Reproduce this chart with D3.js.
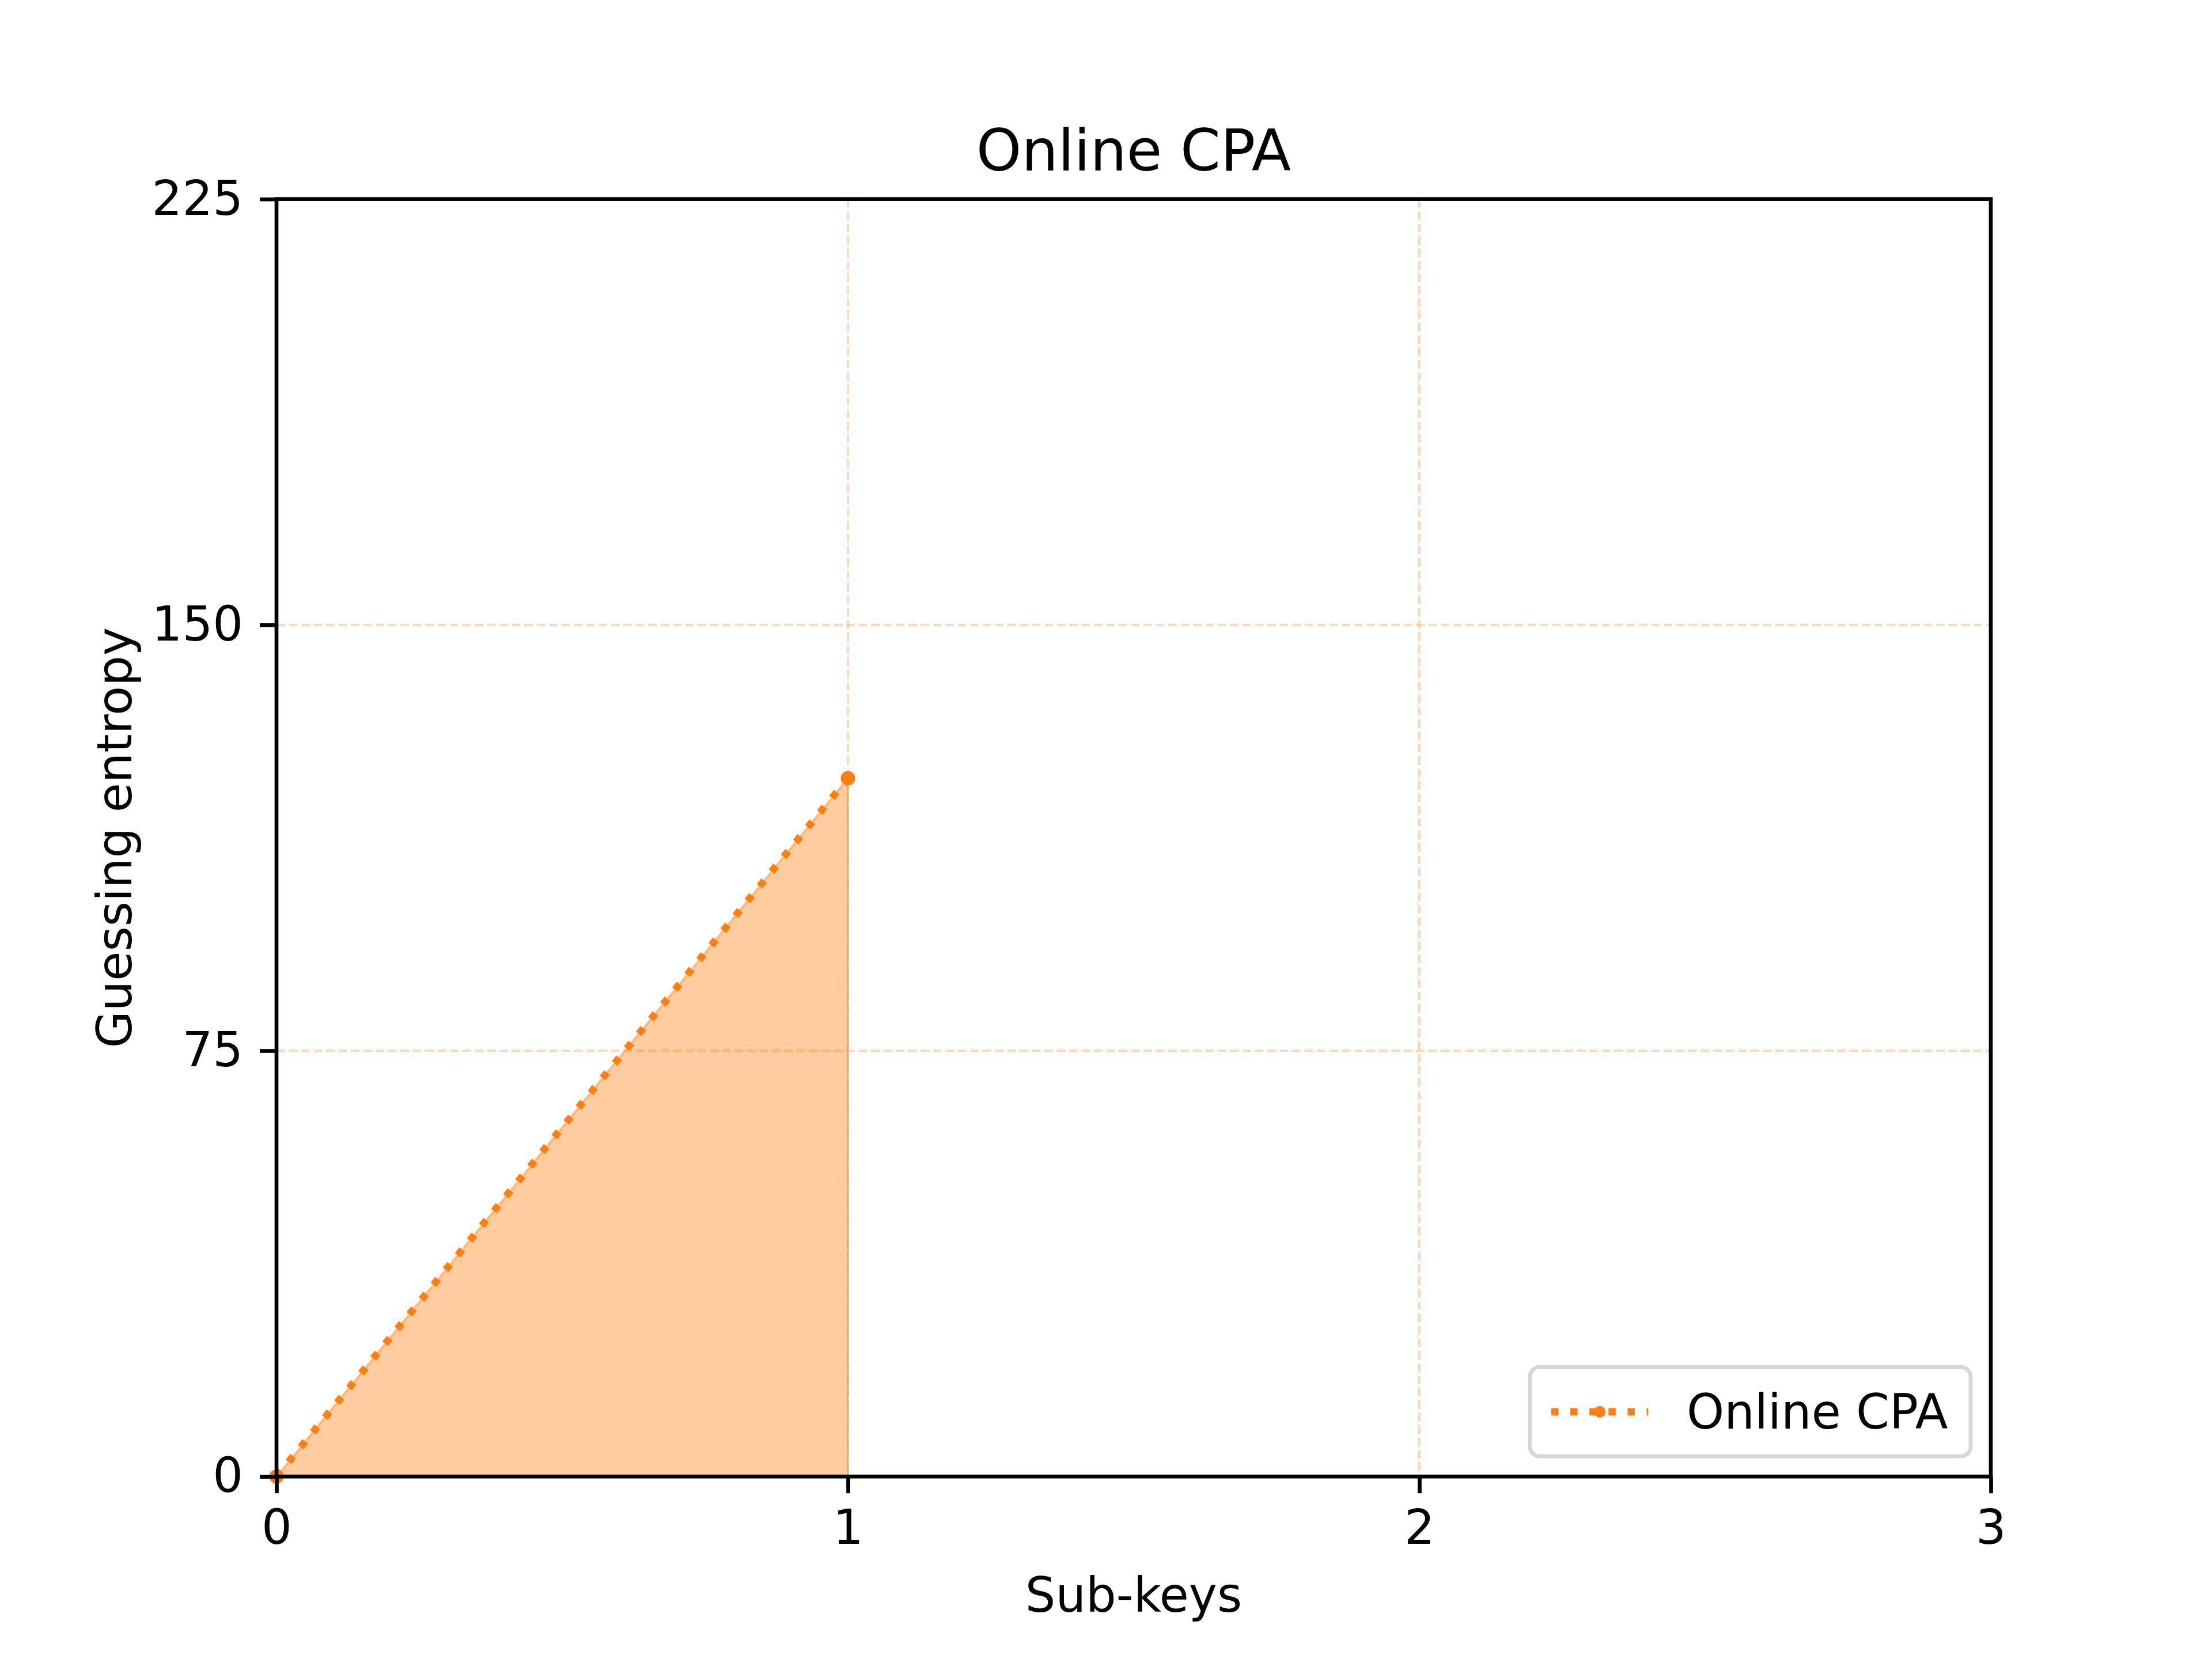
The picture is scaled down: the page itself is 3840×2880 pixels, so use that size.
<!DOCTYPE html>
<meta charset="utf-8">
<script src="https://d3js.org/d3.v7.js"></script>
<style>body{margin:0;background:#fff}</style>
<div id="my_dataviz"></div>
<script>
// data
var subKeys = [0, 1];
var entropy = [0, 123];
var xTicks = [0, 1, 2, 3];
var yTicks = [0, 75, 150, 225];
var seriesName = "Online CPA";

var W = 3840, H = 2880;
var margin = {top: 345.6, right: 384, bottom: 316.8, left: 480},
    width = W - margin.left - margin.right,
    height = H - margin.top - margin.bottom;
var orange = "#ff7f0e";
var font = "DejaVu Sans";

var svg = d3.select("#my_dataviz").append("svg")
    .attr("width", W).attr("height", H)
    .style("font-family", font);
var g = svg.append("g")
    .attr("transform", "translate(" + margin.left + "," + margin.top + ")");

var x = d3.scaleLinear().domain([0, 3]).range([0, width]);
var y = d3.scaleLinear().domain([0, 225]).range([height, 0]);

var data = subKeys.map(function(k, i) { return {x: k, y: entropy[i]}; });

// grid
g.append("g").selectAll("line").data(xTicks).enter().append("line")
  .attr("x1", d => x(d)).attr("x2", d => x(d)).attr("y1", 0).attr("y2", height)
  .style("stroke", orange).style("stroke-opacity", 0.3)
  .style("stroke-width", 4).style("stroke-dasharray", "15,6.5");
g.append("g").selectAll("line").data(yTicks).enter().append("line")
  .attr("y1", d => y(d)).attr("y2", d => y(d)).attr("x1", 0).attr("x2", width)
  .style("stroke", orange).style("stroke-opacity", 0.3)
  .style("stroke-width", 4).style("stroke-dasharray", "15,6.5");

// fill
g.append("path").datum(data)
  .attr("d", d3.area().x(d => x(d.x)).y0(y(0)).y1(d => y(d.y)))
  .style("fill", orange).style("fill-opacity", 0.4)
  .style("stroke", orange).style("stroke-opacity", 0.4).style("stroke-width", 4);

// line
g.append("path").datum(data)
  .attr("d", d3.line().x(d => x(d.x)).y(d => y(d.y)))
  .style("fill", "none").style("stroke", orange)
  .style("stroke-width", 12.5).style("stroke-dasharray", "12.5,20.6");
g.append("g").selectAll("circle").data(data).enter().append("circle")
  .attr("cx", d => x(d.x)).attr("cy", d => y(d.y)).attr("r", 12.5)
  .style("fill", orange);

// axes
var xAxis = g.append("g").attr("transform", "translate(0," + height + ")")
  .call(d3.axisBottom(x).tickValues(xTicks).tickFormat(d3.format("d")).tickSize(29).tickPadding(29));
var yAxis = g.append("g")
  .call(d3.axisLeft(y).tickValues(yTicks).tickFormat(d3.format("d")).tickSize(29).tickPadding(29));
[xAxis, yAxis].forEach(function(a) {
  a.select(".domain").remove();
  a.selectAll(".tick line").style("stroke-width", 6.7).style("stroke", "#000");
  a.selectAll(".tick text").style("font-size", "83px").style("font-family", font).style("fill", "#000");
});
g.append("rect").attr("width", width).attr("height", height)
  .style("fill", "none").style("stroke", "#000").style("stroke-width", 6.7);

// labels
svg.append("text").attr("x", margin.left + width / 2).attr("y", margin.top - 50)
  .attr("text-anchor", "middle").style("font-size", "100px").text(seriesName);
svg.append("text").attr("x", margin.left + width / 2).attr("y", margin.top + height + 235)
  .attr("text-anchor", "middle").style("font-size", "83px").text("Sub-keys");
svg.append("text")
  .attr("transform", "translate(228," + (margin.top + height / 2) + ") rotate(-90)")
  .attr("text-anchor", "middle").style("font-size", "83px").text("Guessing entropy");

// legend
var lw = 765, lh = 155;
var lg = g.append("g").attr("transform", "translate(" + (width - 35 - lw) + "," + (height - 35 - lh) + ")");
lg.append("rect").attr("width", lw).attr("height", lh).attr("rx", 17)
  .style("fill", "#fff").style("fill-opacity", 0.8).style("stroke", "#d6d6d6").style("stroke-width", 6.7);
lg.append("line").attr("x1", 37).attr("x2", 205).attr("y1", lh / 2).attr("y2", lh / 2)
  .style("stroke", orange).style("stroke-width", 12.5).style("stroke-dasharray", "12.5,20.6");
lg.append("circle").attr("cx", 121).attr("cy", lh / 2).attr("r", 10).style("fill", orange);
lg.append("text").attr("x", 272).attr("y", lh / 2).attr("dy", "0.35em")
  .style("font-size", "83px").text(seriesName);
</script>
